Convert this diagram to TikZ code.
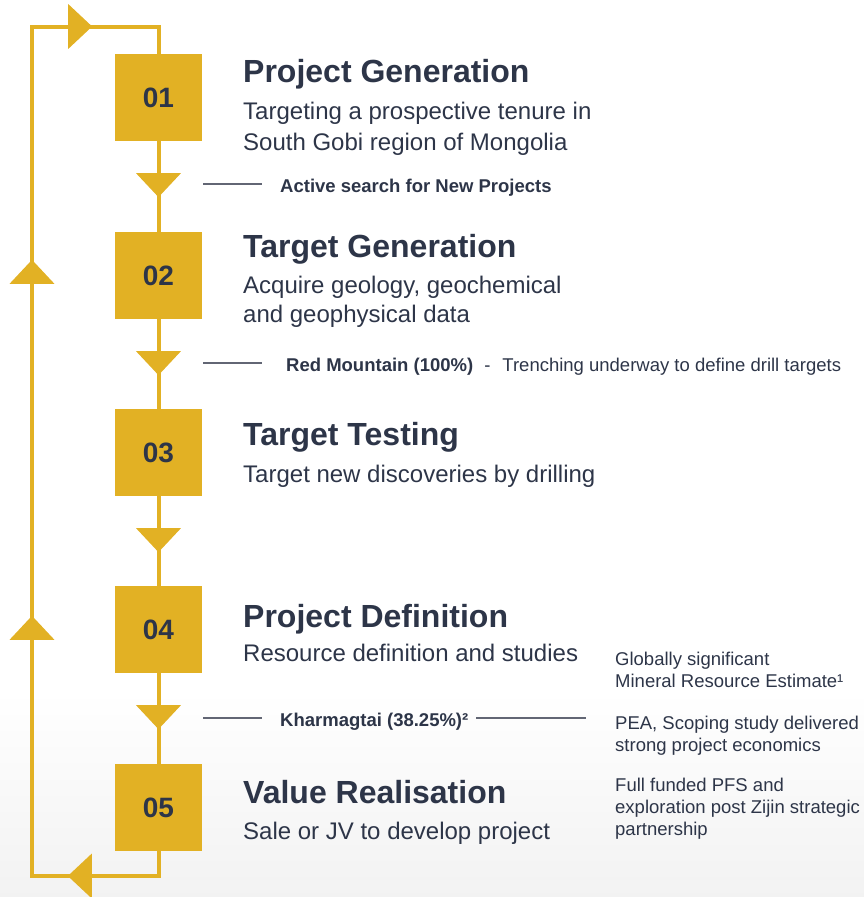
\documentclass[tikz,border=0pt]{standalone}
\usepackage{fontspec}
\setmainfont{Liberation Sans}
\usetikzlibrary{arrows.meta,decorations.markings}
\definecolor{gold}{RGB}{226,177,36}
\definecolor{navy}{RGB}{45,53,72}
\definecolor{leadgrey}{RGB}{98,102,116}
\newcommand{\fsz}[2]{\fontsize{#1}{#2}\selectfont}

\begin{document}
\begin{tikzpicture}[x=1pt, y=-1pt,
    stepbox/.style={fill=gold, minimum size=87pt, inner sep=0pt, text=navy, font=\fsz{28}{30}\bfseries},
    cycle/.style={draw=gold, line width=4pt},
    tipmark/.style={postaction={decorate, decoration={markings,
        mark=at position #1 with {\arrow[gold]{Triangle[width=44pt,length=24pt]}}}}},
    heading/.style={anchor=base west, inner sep=0pt, text=navy, font=\fsz{32}{36}\bfseries},
    desc/.style={anchor=base west, inner sep=0pt, text=navy, font=\fsz{24}{30}},
    note/.style={anchor=base west, inner sep=0pt, text=navy, font=\fsz{18.5}{22}},
    leader/.style={draw=leadgrey, line width=1.3pt}]
    \useasboundingbox (0,0) rectangle (864,897);
    % Background
    \fill[top color=white, bottom color=black!5] (0,690) rectangle (864,897);
    % Steps
    \node[stepbox] (b1) at (158.5,97.5) {01};
    \node[stepbox] (b2) at (158.5,275.5) {02};
    \node[stepbox] (b3) at (158.5,452.5) {03};
    \node[stepbox] (b4) at (158.5,629.5) {04};
    \node[stepbox] (b5) at (158.5,807.5) {05};
    % Cycle
    \coordinate (lb) at (32,876);
    \coordinate (lt) at (32,26.5);
    \foreach \a/\b in {b1/b2, b2/b3, b3/b4, b4/b5}
        \draw[cycle, tipmark=56pt] (\a) -- (\b);
    \draw[cycle, tipmark=115.5pt, tipmark=411.5pt, tipmark=767.5pt, tipmark=1061pt]
        (b5.south) |- (lb) -- (lt) -| (b1.north);
    % Titles
    \node[heading] (h1) at (243,82) {Project Generation};
    \node[desc] (d1a) at (243,119) {Targeting a prospective tenure in};
    \node[desc] (d1b) at (243,150) {South Gobi region of Mongolia};
    \node[heading] (h2) at (243,257) {Target Generation};
    \node[desc] (d2a) at (243,293) {Acquire geology, geochemical};
    \node[desc] (d2b) at (243,322) {and geophysical data};
    \node[heading] (h3) at (243,445) {Target Testing};
    \node[desc] (d3) at (243,482) {Target new discoveries by drilling};
    \node[heading] (h4) at (243,627) {Project Definition};
    \node[desc] (d4) at (243,661) {Resource definition and studies};
    \node[heading] (h5) at (243,803) {Value Realisation};
    \node[desc] (d5) at (243,839) {Sale or JV to develop project};
    % Projects
    \node[note, font=\fsz{18.5}{22}\bfseries] (act) at (280,192) {Active search for New Projects};
    \node[note] (red) at (286,371) {\textbf{Red Mountain (100\%)}\hspace{11pt}-\hspace{12pt}Trenching underway to define drill targets};
    \node[note, font=\fsz{18.5}{22}\bfseries] (kha) at (280,726) {Kharmagtai (38.25\%)²};
    \coordinate (a1) at (203,184);  \coordinate (a2) at (262,184);
    \coordinate (r1) at (203,363);  \coordinate (r2) at (262,363);
    \coordinate (k1) at (203,718);  \coordinate (k2) at (262,718);
    \coordinate (k3) at (476,718);  \coordinate (k4) at (586,718);
    \draw[leader] (a1) -- (a2);
    \draw[leader] (r1) -- (r2);
    \draw[leader] (k1) -- (k2);
    \draw[leader] (k3) -- (k4);
    % Kharmagtai notes
    \node[note] (n1a) at (615,665) {Globally significant};
    \node[note] (n1b) at (615,687) {Mineral Resource Estimate¹};
    \node[note] (n2a) at (615,729) {PEA, Scoping study delivered};
    \node[note] (n2b) at (615,751) {strong project economics};
    \node[note] (n3a) at (615,791) {Full funded PFS and};
    \node[note] (n3b) at (615,813) {exploration post Zijin strategic};
    \node[note] (n3c) at (615,835) {partnership};
\end{tikzpicture}
\end{document}
